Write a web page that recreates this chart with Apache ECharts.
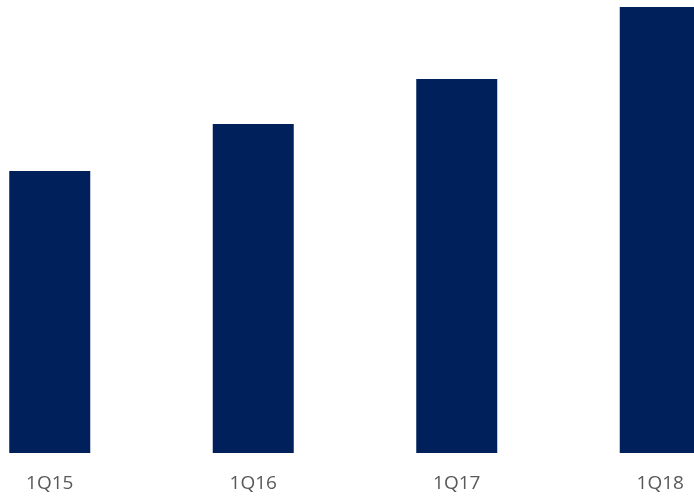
<!DOCTYPE html>
<html>
<head>
<meta charset="utf-8">
<script src="https://cdn.jsdelivr.net/npm/echarts@6/dist/echarts.min.js"></script>
<style>
  html, body { margin: 0; padding: 0; background: #fff; }
  #chart { width: 694px; height: 498px; }
</style>
</head>
<body>
<div id="chart"></div>
<script>
const categories = ['1Q15', '1Q16', '1Q17', '1Q18'];
const values = [282, 329, 374, 446];

const chart = echarts.init(document.getElementById('chart'));
chart.setOption({
  animation: false,
  grid: { left: -52, width: 814, top: 0, bottom: 45, outerBoundsMode: 'none', containLabel: false },
  xAxis: {
    type: 'category',
    data: categories,
    axisLine: { show: false },
    axisTick: { show: false },
    axisLabel: {
      color: '#595959',
      fontFamily: 'Open Sans',
      fontSize: 19,
      margin: 21
    }
  },
  yAxis: {
    type: 'value',
    min: 0,
    max: 453,
    show: false
  },
  series: [{
    type: 'bar',
    data: values,
    barWidth: 81,
    itemStyle: { color: '#00205b' }
  }]
});
</script>
</body>
</html>
